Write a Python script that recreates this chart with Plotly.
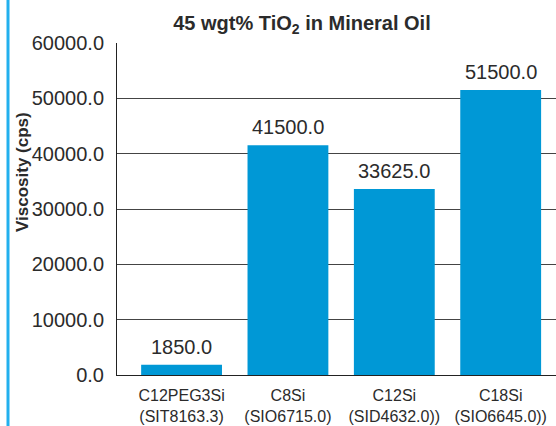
import plotly.graph_objects as go

categories = ["C12PEG3Si<br>(SIT8163.3)", "C8Si<br>(SIO6715.0)", "C12Si<br>(SID4632.0))", "C18Si<br>(SIO6645.0))"]
values = [1850.0, 41500.0, 33625.0, 51500.0]
y_ticks = [0, 10000, 20000, 30000, 40000, 50000, 60000]

FONT = "Liberation Sans, Arial, Helvetica, sans-serif"
TEXT = "#2b2b2b"

W, H = 556, 426
L, R, T, B = 117, 0, 43, 51
PW, PH = W - L - R, H - T - B

fig = go.Figure()
fig.add_trace(go.Bar(
    x=list(range(len(categories))), y=values,
    marker=dict(color="#0098d6", line=dict(width=0)),
    width=0.76, hoverinfo="skip",
))

for i, v in enumerate(values):
    fig.add_annotation(x=i, y=v, text=f"{v:.1f}", showarrow=False,
                       yanchor="bottom", yshift=5,
                       font=dict(family=FONT, size=20, color=TEXT))

fig.add_annotation(xref="paper", yref="paper", x=(23 - L) / PW, y=(H - B - 172) / PH,
                   text="<b>Viscosity (cps)</b>", textangle=-90, showarrow=False,
                   xanchor="center", yanchor="middle",
                   font=dict(family=FONT, size=17, color=TEXT))

# left decorative blue line
fig.add_shape(type="line", xref="paper", yref="paper",
              x0=(8 - L) / PW, x1=(8 - L) / PW, y0=-B / PH, y1=1 + T / PH,
              line=dict(color="#22b0ee", width=3))

fig.update_layout(
    width=W, height=H,
    margin=dict(l=L, r=R, t=T, b=B),
    paper_bgcolor="white", plot_bgcolor="white",
    showlegend=False,
    title=dict(text="<b>45 wgt% TiO<sub>2</sub> in Mineral Oil</b>",
               x=302 / W, y=1 - 23 / H, xanchor="center", yanchor="middle",
               font=dict(family=FONT, size=20, color=TEXT)),
    xaxis=dict(range=[-0.607, 3.52], tickmode="array",
               tickvals=list(range(len(categories))), ticktext=categories,
               showgrid=False, zeroline=False, showline=True, automargin=False,
               linecolor="#222", linewidth=1, ticks="", tickangle=0,
               ticklabelstandoff=6,
               tickfont=dict(family=FONT, size=16, color=TEXT)),
    yaxis=dict(range=[0, 60000], tickvals=y_ticks,
               ticktext=[f"{t:.1f}" for t in y_ticks], automargin=False,
               showgrid=True, gridcolor="#444", gridwidth=1,
               zeroline=False, showline=True, linecolor="#222", linewidth=1,
               ticks="", ticklabelstandoff=8,
               tickfont=dict(family=FONT, size=20, color=TEXT)),
)

fig.write_html("out.html", config={"displayModeBar": False},
               post_script="document.body.style.margin='0';document.body.style.overflow='hidden';")
